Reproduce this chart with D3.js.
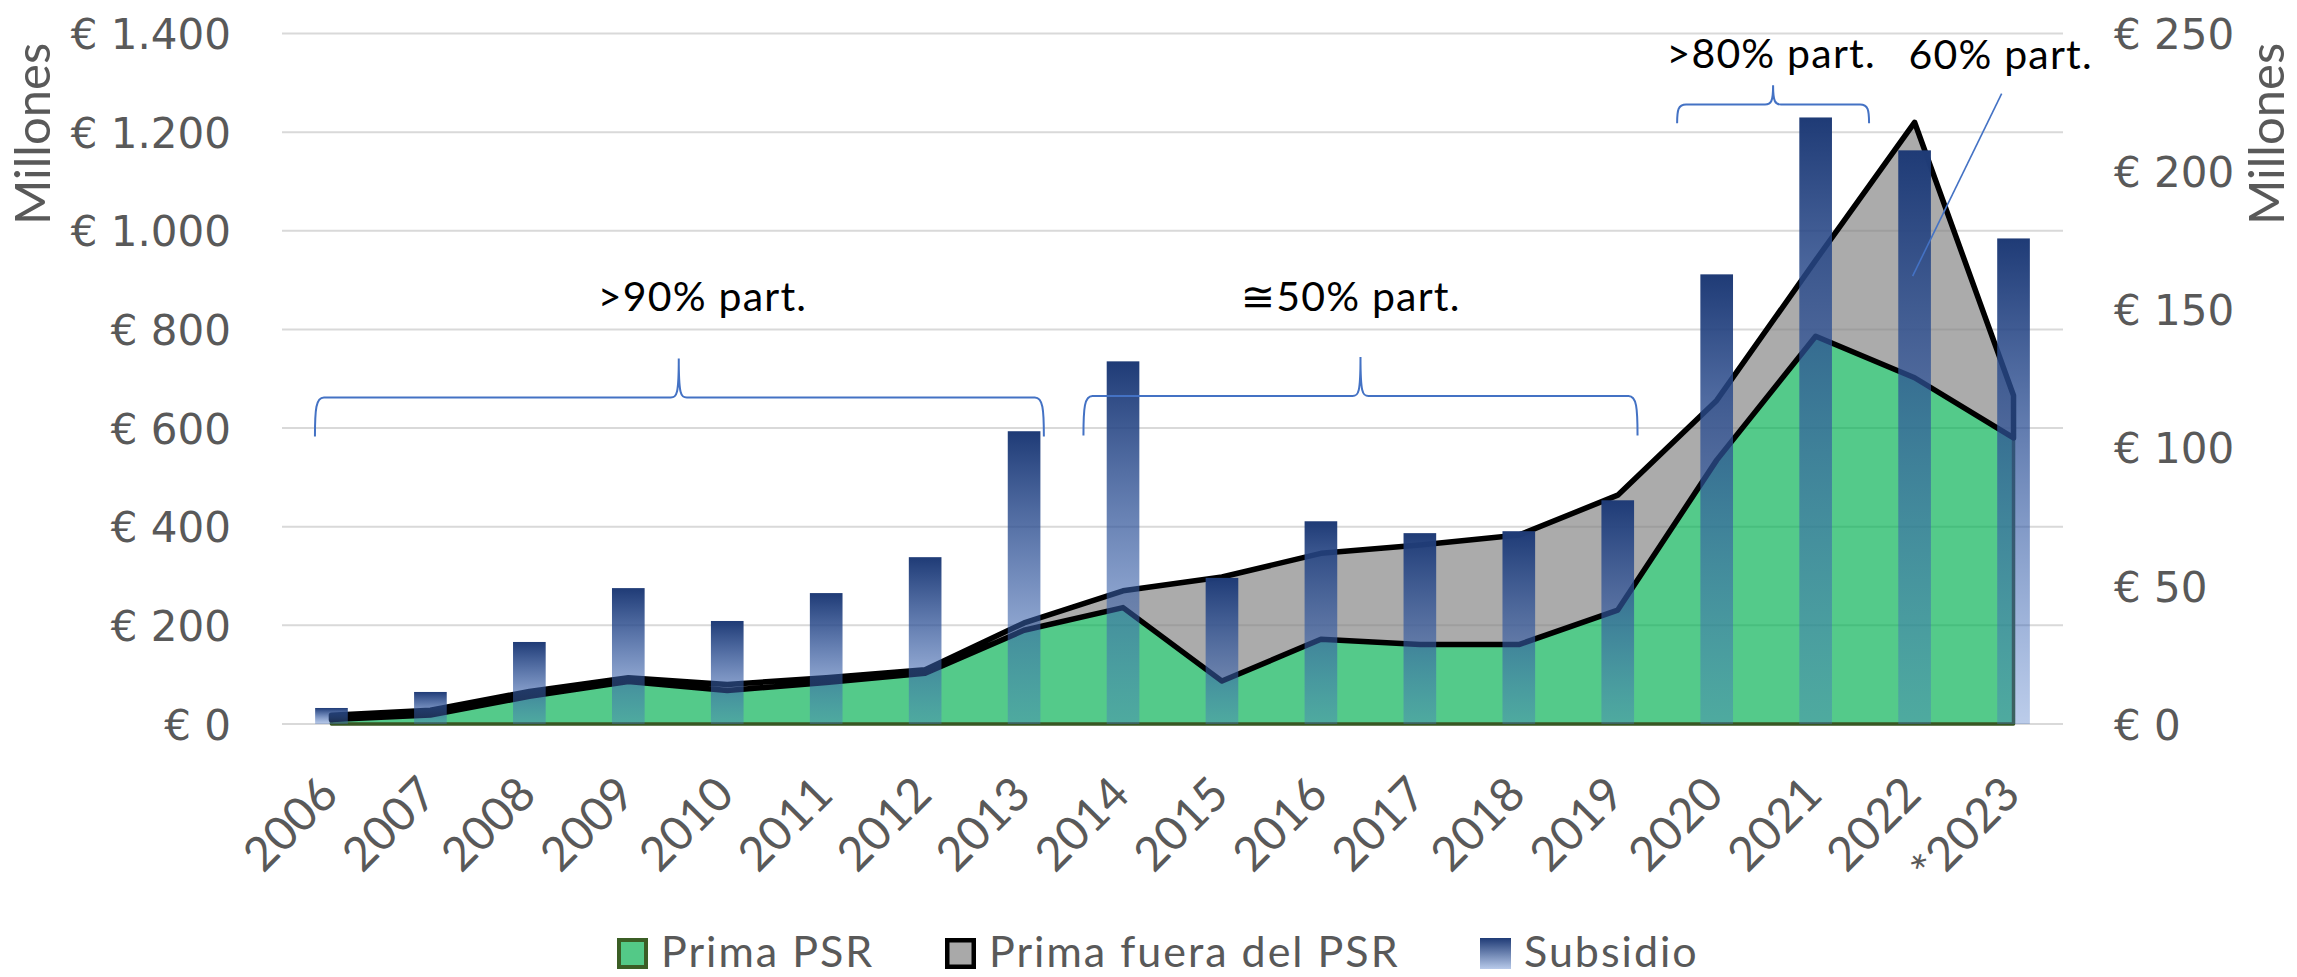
<!DOCTYPE html>
<html>
<head>
<meta charset="utf-8">
<script src="https://cdn.jsdelivr.net/npm/d3@7"></script>
<style>
  html, body { margin: 0; padding: 0; background: #fff; }
  svg { display: block; }
</style>
</head>
<body>
<svg id="chart" width="2297" height="977"></svg>
<script>
// ---------------- DATA ----------------
const categories = ["2006","2007","2008","2009","2010","2011","2012","2013","2014",
  "2015","2016","2017","2018","2019","2020","2021","2022","*2023"];
// Prima PSR (left axis, millones €)
const primaPSR   = [9, 18, 56, 86, 68, 84, 103, 190, 236, 87, 172, 161, 161, 231, 535, 786, 702, 580];
// Prima fuera del PSR (stacked on top of Prima PSR)
const primaFuera = [9, 10, 10, 8, 12, 10, 7, 15, 34, 211, 174, 202, 222, 233, 121, 154, 518, 86];
// Subsidio (right axis, millones €)
const subsidio   = [5.8, 11.6, 29.7, 49.2, 37.3, 47.4, 60.4, 106, 131.3, 52.9, 73.4, 69.1, 69.8, 81, 162.8, 219.6, 207.7, 175.8];

const leftTicks  = [0, 200, 400, 600, 800, 1000, 1200, 1400];
const rightTicks = [0, 50, 100, 150, 200, 250];
const leftTickLabels  = ["€ 0","€ 200","€ 400","€ 600","€ 800","€ 1.000","€ 1.200","€ 1.400"];
const rightTickLabels = ["€ 0","€ 50","€ 100","€ 150","€ 200","€ 250"];
const seriesNames = ["Prima PSR", "Prima fuera del PSR", "Subsidio"];
const axisTitle = "Millones";

// Annotations: x in category-index units, y in left-axis units
const annoTexts = [
  { text: ">90% part.", x: 3.75,  y: 837 },
  { text: "\u224550% part.", x: 10.3, y: 837 },
  { text: ">80% part.", x: 14.55, y: 1331 },
  { text: "60% part.", x: 16.87, y: 1329 }
];
const braces = [
  { x0: -0.167, x1: 7.2,   xm: 3.51,  yb: 583,  yh: 662,  yt: 741 },
  { x0: 7.6,    x1: 13.2,  xm: 10.4,  yb: 585,  yh: 665,  yt: 744 },
  { x0: 13.6,   x1: 15.54, xm: 14.57, yb: 1218, yh: 1256, yt: 1295 }
];
const pointerLine = [{ x: 16.88, y: 1278 }, { x: 15.98, y: 908 }];

// ---------------- LAYOUT ----------------
const svg = d3.select("#chart");
const plot = { left: 282, right: 2063, top: 33.5, bottom: 724 };

const x = d3.scaleBand().domain(categories).range([plot.left, plot.right]).padding(0);
const cx = d => x(d) + x.bandwidth() / 2;
const xi = d3.scaleLinear().domain([0, categories.length - 1])
  .range([cx(categories[0]), cx(categories[categories.length - 1])]);
const yL = d3.scaleLinear().domain([0, 1400]).range([plot.bottom, plot.top]);
const yR = d3.scaleLinear().domain([0, 250]).range([plot.bottom, plot.top]);

const defs = svg.append("defs");
const grad = defs.append("linearGradient").attr("id", "barGrad")
  .attr("x1", 0).attr("y1", 0).attr("x2", 0).attr("y2", 1);
grad.append("stop").attr("offset", "0%").attr("stop-color", "#1F3B76").attr("stop-opacity", 1);
grad.append("stop").attr("offset", "100%").attr("stop-color", "#4472C4").attr("stop-opacity", 0.36);

const legGrad = defs.append("linearGradient").attr("id", "legGrad")
  .attr("x1", 0).attr("y1", 0).attr("x2", 0).attr("y2", 1);
legGrad.append("stop").attr("offset", "0%").attr("stop-color", "#1F3B76");
legGrad.append("stop").attr("offset", "100%").attr("stop-color", "#B8CAEA");

// gridlines
svg.append("g").selectAll("line").data(leftTicks).join("line")
  .attr("x1", plot.left).attr("x2", plot.right)
  .attr("y1", d => yL(d)).attr("y2", d => yL(d))
  .attr("stroke", "#D9D9D9").attr("stroke-width", 2);

const tickFont = "'DejaVu Sans', sans-serif";
// left axis labels
const axisL = d3.axisLeft(yL).tickValues(leftTicks).tickSize(0)
  .tickFormat((d, i) => leftTickLabels[i]);
const gL = svg.append("g").attr("transform", "translate(231,0)").call(axisL);
gL.select(".domain").remove();
gL.selectAll("text").attr("x", 0).attr("dy", "0.36em")
  .style("font-family", tickFont).style("font-size", "42px").attr("fill", "#595959");

// right axis labels
const axisR = d3.axisRight(yR).tickValues(rightTicks).tickSize(0)
  .tickFormat((d, i) => rightTickLabels[i]);
const gR = svg.append("g").attr("transform", "translate(2114,0)").call(axisR);
gR.select(".domain").remove();
gR.selectAll("text").attr("x", 0).attr("dy", "0.36em")
  .style("font-family", tickFont).style("font-size", "42px").attr("fill", "#595959");

// axis titles
svg.append("text").text(axisTitle)
  .attr("transform", "translate(50,134) rotate(-90)").attr("text-anchor", "middle")
  .style("font-family", "Lato, sans-serif").style("font-size", "49px").attr("fill", "#595959");
svg.append("text").text(axisTitle)
  .attr("transform", "translate(2284,134) rotate(-90)").attr("text-anchor", "middle")
  .style("font-family", "Lato, sans-serif").style("font-size", "49px").attr("fill", "#595959");

// stacked areas
const rows = categories.map((c, i) => ({ cat: c, psr: primaPSR[i], fuera: primaFuera[i] }));
const stack = d3.stack().keys(["psr", "fuera"])(rows);
const area = d3.area()
  .x(d => cx(d.data.cat))
  .y0(d => yL(d[0]))
  .y1(d => yL(d[1]));
const areaClosed = s => area(s);
svg.append("path").datum(stack[0]).attr("d", areaClosed)
  .attr("fill", "#00B050").attr("fill-opacity", 0.67)
  .attr("stroke", "#385723").attr("stroke-width", 3.5).attr("stroke-linejoin", "round");
svg.append("path").datum(stack[1]).attr("d", areaClosed)
  .attr("fill", "#7F7F7F").attr("fill-opacity", 0.66)
  .attr("stroke", "#000").attr("stroke-width", 5.5).attr("stroke-linejoin", "round");

// bars
const barW = x.bandwidth() * 0.33;
svg.append("g").selectAll("rect").data(categories).join("rect")
  .attr("x", d => cx(d) - barW / 2)
  .attr("width", barW)
  .attr("y", (d, i) => yR(subsidio[i]))
  .attr("height", (d, i) => yR(0) - yR(subsidio[i]))
  .attr("fill", "url(#barGrad)");

// x labels
svg.append("g").selectAll("text").data(categories).join("text")
  .text(d => d)
  .attr("transform", d => `translate(${cx(d) + 9},797) rotate(-45)`)
  .attr("text-anchor", "end")
  .style("font-family", "Lato, sans-serif").style("font-size", "47px").attr("fill", "#595959");

// braces
const bracePath = b => {
  const X0 = xi(b.x0), X1 = xi(b.x1), XM = xi(b.xm);
  const YB = yL(b.yb), YH = yL(b.yh), YT = yL(b.yt);
  const r = 9, c = 8;
  return `M${X0},${YB} C${X0},${YB - (YB - YH) * 0.7} ${X0 + 1},${YH} ${X0 + r},${YH}` +
    ` L${XM - c},${YH} C${XM - 2},${YH} ${XM},${YH - 3} ${XM},${YT}` +
    ` C${XM},${YH - 3} ${XM + 2},${YH} ${XM + c},${YH}` +
    ` L${X1 - r},${YH} C${X1 - 1},${YH} ${X1},${YB - (YB - YH) * 0.7} ${X1},${YB}`;
};
svg.append("g").selectAll("path").data(braces).join("path")
  .attr("d", bracePath).attr("fill", "none")
  .attr("stroke", "#4472C4").attr("stroke-width", 2);

svg.append("line")
  .attr("x1", xi(pointerLine[0].x)).attr("y1", yL(pointerLine[0].y))
  .attr("x2", xi(pointerLine[1].x)).attr("y2", yL(pointerLine[1].y))
  .attr("stroke", "#4472C4").attr("stroke-width", 1.6);

svg.append("g").selectAll("text").data(annoTexts).join("text")
  .text(d => d.text)
  .attr("x", d => xi(d.x)).attr("y", d => yL(d.y))
  .attr("text-anchor", "middle")
  .style("font-family", "Lato, 'DejaVu Sans', sans-serif").style("font-size", "41px")
  .style("letter-spacing", "1.2px").attr("fill", "#000");

// legend
const legend = [
  { name: seriesNames[0], x: 617, fill: "#53C987", stroke: "#3B5E25", sw: 4 },
  { name: seriesNames[1], x: 945, fill: "#A9A9A9", stroke: "#000", sw: 4.5 },
  { name: seriesNames[2], x: 1480, fill: "url(#legGrad)", stroke: "none", sw: 0 }
];
const lg = svg.append("g").selectAll("g").data(legend).join("g");
lg.append("rect")
  .attr("x", d => d.x + d.sw / 2).attr("y", d => 938 + d.sw / 2)
  .attr("width", d => 31 - d.sw).attr("height", d => 31 - d.sw)
  .attr("fill", d => d.fill).attr("stroke", d => d.stroke).attr("stroke-width", d => d.sw);
lg.append("text").text(d => d.name)
  .attr("x", d => d.x + 44).attr("y", 967)
  .style("font-family", "Lato, sans-serif").style("font-size", "43px")
  .style("letter-spacing", "2px").attr("fill", "#595959");
</script>
</body>
</html>
